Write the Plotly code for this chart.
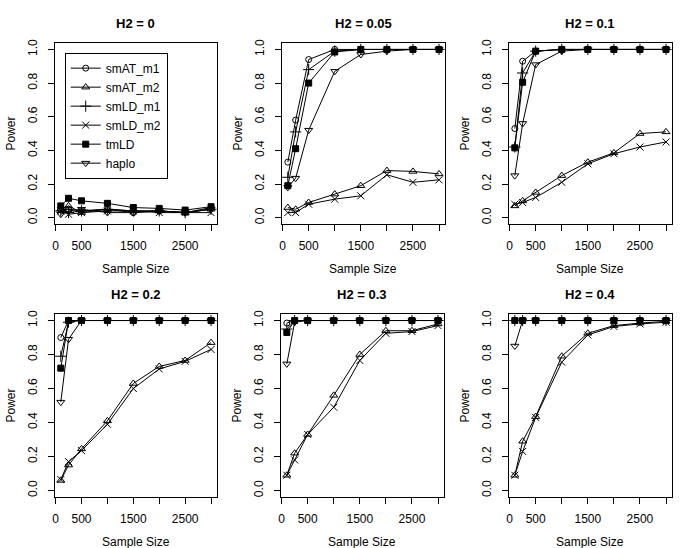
import plotly.graph_objects as go

sample_sizes = [100, 250, 500, 1000, 1500, 2000, 2500, 3000]
panel_titles = ["H2 = 0", "H2 = 0.05", "H2 = 0.1", "H2 = 0.2", "H2 = 0.3", "H2 = 0.4"]
series_names = ["smAT_m1", "smAT_m2", "smLD_m1", "smLD_m2", "tmLD", "haplo"]

# one row per panel (H2 = 0, 0.05, 0.1, 0.2, 0.3, 0.4)
smAT_m1 = [
    [0.05, 0.05, 0.04, 0.05, 0.03, 0.04, 0.03, 0.06],
    [0.33, 0.58, 0.94, 1.00, 1.00, 1.00, 1.00, 1.00],
    [0.53, 0.93, 0.99, 1.00, 1.00, 1.00, 1.00, 1.00],
    [0.90, 1.00, 1.00, 1.00, 1.00, 1.00, 1.00, 1.00],
    [0.985, 1.00, 1.00, 1.00, 1.00, 1.00, 1.00, 1.00],
    [1.00, 1.00, 1.00, 1.00, 1.00, 1.00, 1.00, 1.00],
]
smAT_m2 = [
    [0.05, 0.07, 0.03, 0.05, 0.04, 0.04, 0.03, 0.05],
    [0.06, 0.05, 0.09, 0.14, 0.19, 0.28, 0.275, 0.26],
    [0.07, 0.10, 0.15, 0.25, 0.33, 0.385, 0.50, 0.51],
    [0.06, 0.15, 0.245, 0.41, 0.63, 0.73, 0.765, 0.87],
    [0.09, 0.22, 0.33, 0.56, 0.80, 0.94, 0.94, 0.98],
    [0.09, 0.29, 0.435, 0.79, 0.925, 0.97, 0.985, 0.995],
]
smLD_m1 = [
    [0.04, 0.03, 0.04, 0.05, 0.04, 0.04, 0.03, 0.05],
    [0.24, 0.51, 0.88, 0.99, 1.00, 1.00, 1.00, 1.00],
    [0.42, 0.86, 0.99, 1.00, 1.00, 1.00, 1.00, 1.00],
    [0.79, 0.99, 1.00, 1.00, 1.00, 1.00, 1.00, 1.00],
    [0.95, 1.00, 1.00, 1.00, 1.00, 1.00, 1.00, 1.00],
    [1.00, 1.00, 1.00, 1.00, 1.00, 1.00, 1.00, 1.00],
]
smLD_m2 = [
    [0.04, 0.02, 0.03, 0.04, 0.04, 0.03, 0.03, 0.03],
    [0.03, 0.03, 0.08, 0.11, 0.13, 0.255, 0.21, 0.225],
    [0.08, 0.09, 0.12, 0.21, 0.32, 0.38, 0.42, 0.45],
    [0.065, 0.17, 0.235, 0.39, 0.60, 0.715, 0.76, 0.83],
    [0.09, 0.18, 0.33, 0.49, 0.765, 0.925, 0.935, 0.97],
    [0.09, 0.23, 0.43, 0.755, 0.915, 0.965, 0.98, 0.99],
]
tmLD = [
    [0.07, 0.115, 0.10, 0.085, 0.06, 0.055, 0.045, 0.065],
    [0.19, 0.41, 0.80, 0.985, 1.00, 1.00, 1.00, 1.00],
    [0.415, 0.805, 0.99, 1.00, 1.00, 1.00, 1.00, 1.00],
    [0.72, 1.00, 1.00, 1.00, 1.00, 1.00, 1.00, 1.00],
    [0.93, 1.00, 1.00, 1.00, 1.00, 1.00, 1.00, 1.00],
    [1.00, 1.00, 1.00, 1.00, 1.00, 1.00, 1.00, 1.00],
]
haplo = [
    [0.02, 0.04, 0.05, 0.03, 0.03, 0.04, 0.03, 0.05],
    [0.18, 0.235, 0.52, 0.87, 0.97, 0.99, 1.00, 1.00],
    [0.25, 0.56, 0.91, 0.99, 1.00, 1.00, 1.00, 1.00],
    [0.52, 0.89, 1.00, 1.00, 1.00, 1.00, 1.00, 1.00],
    [0.745, 0.99, 1.00, 1.00, 1.00, 1.00, 1.00, 1.00],
    [0.85, 1.00, 1.00, 1.00, 1.00, 1.00, 1.00, 1.00],
]

x_tickvals = [0, 500, 1000, 1500, 2000, 2500, 3000]
x_ticktext = ["0", "500", "", "1500", "", "2500", ""]
y_tickvals = [0, 0.2, 0.4, 0.6, 0.8, 1.0]
y_ticktext = ["0.0", "0.2", "0.4", "0.6", "0.8", "1.0"]

series_data = [smAT_m1, smAT_m2, smLD_m1, smLD_m2, tmLD, haplo]
symbols = ["circle-open", "triangle-up-open", "cross-thin-open", "x-thin-open", "square", "triangle-down-open"]
msizes = [6, 7, 8, 7, 6, 7]

W, H = 685, 548
FONT = "Liberation Sans, Arial, sans-serif"

# pixel boxes of the six panels: left, right, top, bottom
boxes = [
    (52, 215, 39, 222), (280, 444, 39, 222), (508, 672, 39, 222),
    (52, 215, 312, 497), (279, 443, 312, 497), (508, 672, 312, 497),
]

fig = go.Figure()
for p in range(6):
    ax = "" if p == 0 else str(p + 1)
    for s in range(6):
        fig.add_trace(go.Scatter(
            x=sample_sizes, y=series_data[s][p], name=series_names[s],
            xaxis="x" + ax, yaxis="y" + ax, mode="lines+markers",
            line=dict(color="black", width=1),
            marker=dict(symbol=symbols[s], size=msizes[s], color="black",
                        line=dict(color="black", width=1)),
            showlegend=(p == 0),
        ))

annotations = []
for p, (l, r, t, b) in enumerate(boxes):
    ax = "" if p == 0 else str(p + 1)
    xd = [l / W, r / W]
    yd = [1 - b / H, 1 - t / H]
    fig.layout["xaxis" + ax] = dict(
        domain=xd, anchor="y" + ax, range=[-16, 3116],
        tickvals=x_tickvals, ticktext=x_ticktext, ticks="outside", ticklen=6,
        tickcolor="black", showline=True, mirror=True, linecolor="black", linewidth=1,
        showgrid=False, zeroline=False, ticklabelstandoff=4,
        tickfont=dict(family=FONT, size=12, color="black"),
    )
    fig.layout["yaxis" + ax] = dict(
        domain=yd, anchor="x" + ax, range=[-0.04, 1.04],
        tickvals=y_tickvals, ticktext=y_ticktext, ticks="outside", ticklen=6,
        tickcolor="black", showline=True, mirror=True, linecolor="black", linewidth=1,
        showgrid=False, zeroline=False, tickangle=-90, ticklabelstandoff=6,
        tickfont=dict(family=FONT, size=12, color="black"),
    )
    cx = (l + r) / 2
    annotations.append(dict(text="<b>" + panel_titles[p] + "</b>", x=cx / W, y=1 - (t - 19) / H,
                            xref="paper", yref="paper", showarrow=False,
                            xanchor="center", yanchor="middle",
                            font=dict(family=FONT, size=13, color="black")))
    annotations.append(dict(text="Sample Size", x=cx / W, y=1 - (b + 45) / H,
                            xref="paper", yref="paper", showarrow=False,
                            xanchor="center", yanchor="middle",
                            font=dict(family=FONT, size=12, color="black")))
    annotations.append(dict(text="Power", x=(l - 44) / W, y=1 - ((t + b) / 2) / H,
                            xref="paper", yref="paper", showarrow=False, textangle=-90,
                            xanchor="center", yanchor="middle",
                            font=dict(family=FONT, size=12, color="black")))

fig.update_layout(
    width=W, height=H, margin=dict(l=0, r=0, t=0, b=0),
    paper_bgcolor="white", plot_bgcolor="white",
    annotations=annotations,
    legend=dict(x=62 / W, y=1 - 49 / H, xanchor="left", yanchor="top",
                bgcolor="white", bordercolor="black", borderwidth=1,
                font=dict(family=FONT, size=12, color="black"),
                itemwidth=30, tracegroupgap=0),
)

fig.write_html(
    "out.html",
    config={"displayModeBar": False},
    post_script="document.body.style.margin='0';document.body.style.padding='0';"
                "document.documentElement.style.overflow='hidden';",
)
